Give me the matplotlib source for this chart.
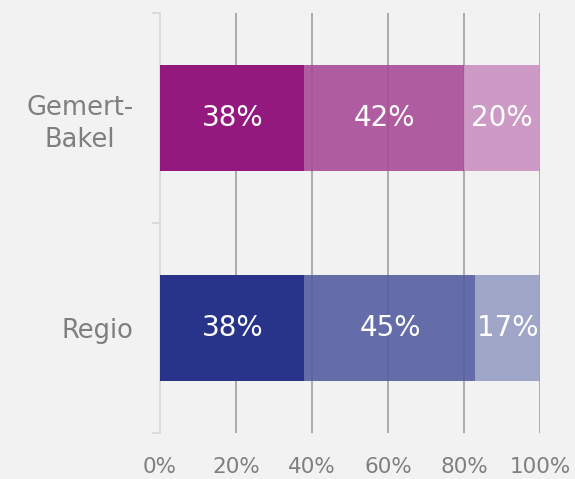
import matplotlib
matplotlib.use("Agg")
import matplotlib.pyplot as plt
import numpy as np

categories = ["Regio", "Gemert-\nBakel"]
seg1 = [38, 38]
seg2 = [45, 42]
seg3 = [17, 20]
xticks = [0, 20, 40, 60, 80, 100]
xtick_labels = ["0%", "20%", "40%", "60%", "80%", "100%"]

colors = [
    ["#283489", "#555fa1", "#979ec4"],
    ["#94197e", "#a94c97", "#c891bf"],
]

plt.rcParams['font.family'] = ['DejaVu Sans']
bg = "#f2f2f2"
fig = plt.figure(figsize=(5.75, 4.79), dpi=100, facecolor=bg)
ax = fig.add_axes([160/575, 1-433/479, 380/575, 420/479], facecolor=bg)

y = np.arange(len(categories))
for i in range(len(categories)):
    vals = [seg1[i], seg2[i], seg3[i]]
    left = 0
    for j, v in enumerate(vals):
        alpha = 1.0 if j == 0 else 0.9
        ax.barh(y[i], v, left=left, height=0.505, color=colors[i][j], alpha=alpha, zorder=3, linewidth=0)
        ax.text(left + v/2, y[i], f"{v}%", ha="center", va="center", color="white",
                fontsize=20, zorder=4)
        left += v

ax.set_xlim(0, 100)
ax.set_ylim(-0.5, 1.5)
ax.set_xticks(xticks)
ax.set_xticklabels(xtick_labels)
ax.set_yticks(y)
ax.set_yticklabels(categories, multialignment="center", linespacing=1.3)
ax.set_yticks([-0.5, 0.5, 1.5], minor=True)

for xv in xticks[1:]:
    ax.axvline(xv, color="#a6a6a6", linewidth=1.3, zorder=2)

for s in ["top", "right", "bottom"]:
    ax.spines[s].set_visible(False)
ax.spines["left"].set_color("#d9d9d9")
ax.spines["left"].set_linewidth(1.3)

ax.tick_params(axis="x", length=0, pad=17, labelsize=15.5, labelcolor="#7f7f7f")
ax.tick_params(axis="y", which="major", length=0, pad=19, labelsize=18.5, labelcolor="#7f7f7f")
ax.tick_params(axis="y", which="minor", length=6, width=1.3, color="#d9d9d9")

fig.savefig("out.png", dpi=100, facecolor=bg)
